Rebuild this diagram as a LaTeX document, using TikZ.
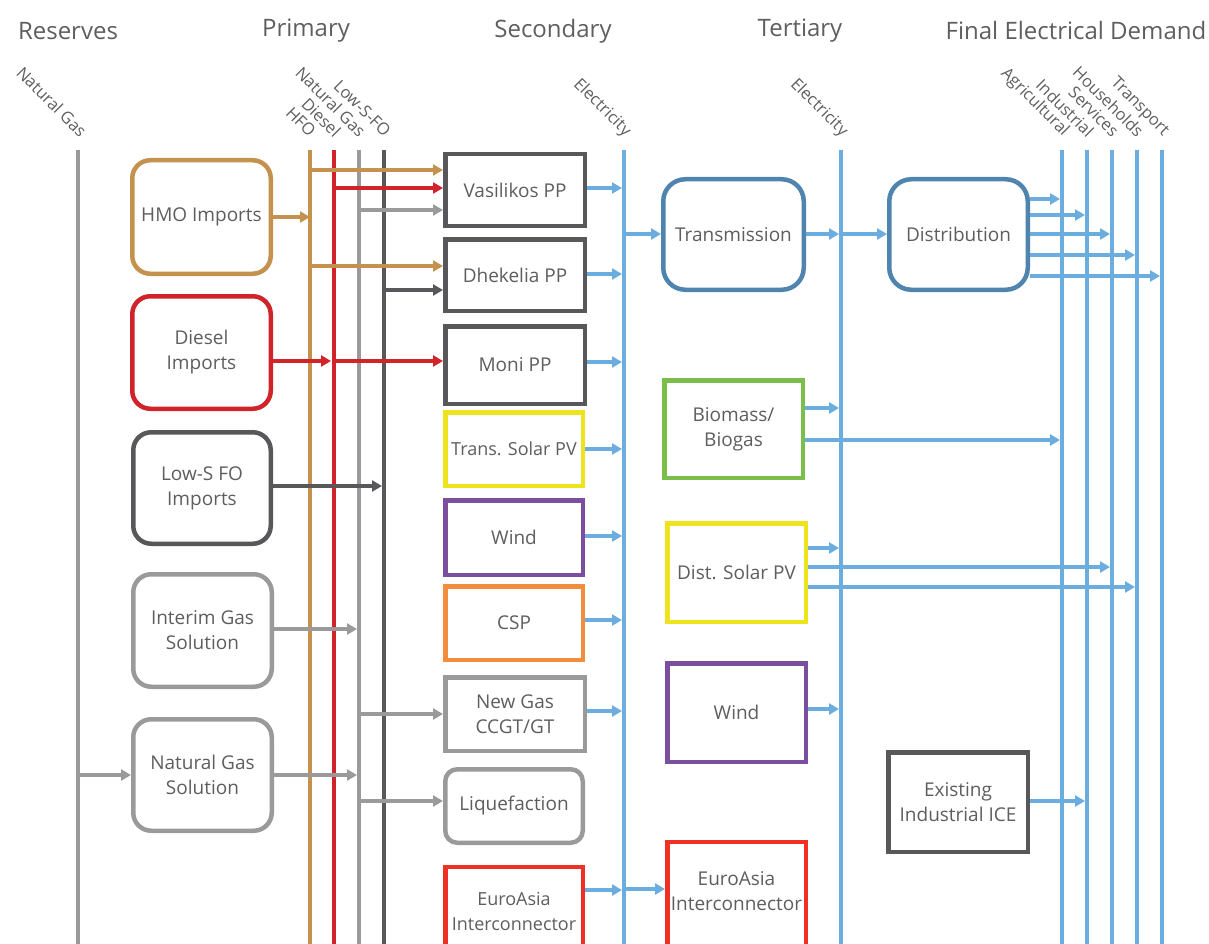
\documentclass[tikz,border=0pt]{standalone}
\usepackage{fontspec}
\setmainfont{Open Sans}
\usetikzlibrary{arrows.meta}
\definecolor{txt}{HTML}{5E5E5E}
\definecolor{ctan}{HTML}{C4914E}
\definecolor{cred}{HTML}{D1232A}
\definecolor{cgray}{HTML}{9A9A9A}
\definecolor{cdark}{HTML}{58585A}
\definecolor{cblue}{HTML}{6CADDF}
\definecolor{csteel}{HTML}{4F84AE}
\definecolor{cgreen}{HTML}{7BBF4A}
\definecolor{cyellow}{HTML}{EEE31D}
\definecolor{cpurple}{HTML}{7B4F9E}
\definecolor{corange}{HTML}{F28E3B}
\definecolor{ceuro}{HTML}{EE3124}
\tikzset{
  hdr/.style={text=txt, font=\fontsize{24}{28}\selectfont, inner sep=0},
  lbl/.style={text=txt, font=\fontsize{16.5}{18}\selectfont, rotate=-45, anchor=east, inner sep=0},
  vl/.style={line width=4pt},
  arr/.style={line width=3.5pt, -{Triangle[length=10pt,width=11pt]}},
  box/.style={line width=4.5pt, fill=white, text=txt, align=center,
    font=\fontsize{19}{25}\selectfont, inner sep=0},
  rbox/.style={box, rounded corners=18pt},
  btxt/.style={text=txt, align=center, font=\fontsize{19}{25}\selectfont, inner sep=0},
}
\begin{document}
\begin{tikzpicture}[x=1pt,y=-1pt]
\useasboundingbox (0,0) rectangle (1209,944);
% headers
\node[hdr] (hres) at (68,31) {Reserves};
\node[hdr] (hpri) at (306,31) {Primary};
\node[hdr] (hsec) at (553,31) {Secondary};
\node[hdr] (hter) at (800,31) {Tertiary};
\node[hdr] (hfin) at (1076,31) {Final Electrical Demand};
% line tops
\coordinate (ngr) at (78,150);
\coordinate (hfo) at (310,150);
\coordinate (dsl) at (334,150);
\coordinate (ngl) at (359,150);
\coordinate (lsf) at (384,150);
\coordinate (el1) at (624,150);
\coordinate (el2) at (841,150);
\coordinate (agr) at (1062,150);
\coordinate (ind) at (1087,150);
\coordinate (ser) at (1112,150);
\coordinate (hou) at (1137,150);
\coordinate (tra) at (1162,150);
% vertical lines
\draw[vl,cgray] (ngr) -- (ngr |- 0,950);
\draw[vl,ctan] (hfo) -- (hfo |- 0,950);
\draw[vl,cred] (dsl) -- (dsl |- 0,950);
\draw[vl,cgray] (ngl) -- (ngl |- 0,950);
\draw[vl,cdark] (lsf) -- (lsf |- 0,950);
\draw[vl,cblue] (el1) -- (el1 |- 0,950);
\draw[vl,cblue] (el2) -- (el2 |- 0,950);
\draw[vl,cblue] (agr) -- (agr |- 0,950);
\draw[vl,cblue] (ind) -- (ind |- 0,950);
\draw[vl,cblue] (ser) -- (ser |- 0,950);
\draw[vl,cblue] (hou) -- (hou |- 0,950);
\draw[vl,cblue] (tra) -- (tra |- 0,950);
% rotated labels
\node[lbl] (l1) at (84,134) {Natural Gas};
\node[lbl] (l2) at (313,134) {HFO};
\node[lbl] (l3) at (338,134) {Diesel};
\node[lbl] (l4) at (363,134) {Natural Gas};
\node[lbl] (l5) at (388,134) {Low-S-FO};
\node[lbl] (l6) at (628,134) {Electricity};
\node[lbl] (l7) at (845,134) {Electricity};
\node[lbl] (l8) at (1066,134) {Agricultural};
\node[lbl] (l9) at (1091,134) {Industrial};
\node[lbl] (l10) at (1116,134) {Services};
\node[lbl] (l11) at (1141,134) {Households};
\node[lbl] (l12) at (1166,134) {Transport};
% primary boxes
\node[rbox,draw=ctan,minimum width=138.5pt,minimum height=113.5pt] (hmo) at (201.5,217) {HMO Imports};
\node[rbox,draw=cred,minimum width=138.5pt,minimum height=112.5pt] (dimp) at (201.5,352.5) {Diesel\\Imports};
\node[rbox,draw=cdark,minimum width=137.5pt,minimum height=111.5pt] (limp) at (202,488) {Low-S FO\\Imports};
\node[rbox,draw=cgray,minimum width=138.5pt,minimum height=112.5pt] (igs) at (202.5,630.5) {Interim Gas\\Solution};
\node[rbox,draw=cgray,minimum width=138.5pt,minimum height=111.5pt] (ngs) at (202.5,775) {Natural Gas\\Solution};
% secondary boxes
\node[box,draw=cdark,minimum width=139.5pt,minimum height=71.5pt] (vas) at (515,190) {Vasilikos PP};
\node[box,draw=cdark,minimum width=139.5pt,minimum height=71.5pt] (dhe) at (515,275) {Dhekelia PP};
\node[box,draw=cdark,minimum width=139.5pt,minimum height=77.5pt] (moni) at (515,365) {Moni PP};
\node[box,draw=cyellow,minimum width=137.5pt,minimum height=73.5pt,font=\fontsize{18}{25}\selectfont] (tsol) at (514,449) {Trans. Solar PV};
\node[box,draw=cpurple,minimum width=137.5pt,minimum height=74.5pt] (wind2) at (514,537.5) {Wind};
\node[box,draw=corange,minimum width=137.5pt,minimum height=73.5pt] (csp) at (514,623) {CSP};
\node[box,draw=cgray,minimum width=139.5pt,minimum height=73.5pt] (ngas) at (515,714) {New Gas\\CCGT/GT};
\node[box,draw=cgray,rounded corners=12pt,minimum width=137.5pt,minimum height=73.5pt] (liq) at (514,806) {Liquefaction};
\node[box,draw=ceuro,minimum width=137.5pt,minimum height=88pt,font=\fontsize{18}{25}\selectfont] (eu2) at (514,911) {EuroAsia\\Interconnector};
% tertiary boxes
\node[box,draw=csteel,rounded corners=22pt,minimum width=140.5pt,minimum height=110.5pt] (trans) at (733.5,234.5) {Transmission};
\node[box,draw=cgreen,minimum width=138.5pt,minimum height=97.5pt] (bio) at (733.5,429) {Biomass/\\Biogas};
\node[box,draw=cyellow,minimum width=138.5pt,minimum height=98.5pt] (dsol) at (736.5,572.5) {Dist. Solar PV};
\node[box,draw=cpurple,minimum width=138.5pt,minimum height=98.5pt] (wind3) at (736.5,712.5) {Wind};
\node[box,draw=ceuro,minimum width=138.5pt,minimum height=120pt] (eu3) at (736.5,902) {};
\node[btxt] (eu3t) at (736.5,891) {EuroAsia\\Interconnector};
% distribution etc
\node[box,draw=csteel,rounded corners=22pt,minimum width=138.5pt,minimum height=110.5pt] (dist) at (958.5,234.5) {Distribution};
\node[box,draw=cdark,minimum width=139.5pt,minimum height=99.5pt] (ice) at (958,802) {Existing\\Industrial ICE};
% primary arrows
\draw[arr,ctan] (hmo.east |- 0,217) -- (hfo |- 0,217);
\draw[arr,ctan] (hfo |- 0,170) -- (vas.west |- 0,170);
\draw[arr,ctan] (hfo |- 0,266) -- (dhe.west |- 0,266);
\draw[arr,cred] (dsl |- 0,188) -- (vas.west |- 0,188);
\draw[arr,cred] (dimp.east |- 0,361) -- ([xshift=-3pt]dsl |- 0,361);
\draw[arr,cred] (dsl |- 0,361) -- (moni.west |- 0,361);
\draw[arr,cgray] (ngl |- 0,210) -- (vas.west |- 0,210);
\draw[arr,cdark] (lsf |- 0,290) -- (dhe.west |- 0,290);
\draw[arr,cdark] (limp.east |- 0,486) -- ([xshift=-2pt]lsf |- 0,486);
\draw[arr,cgray] (igs.east |- 0,629) -- ([xshift=-2pt]ngl |- 0,629);
\draw[arr,cgray] (ngl |- 0,714) -- (ngas.west |- 0,714);
\draw[arr,cgray] (ngr |- 0,775) -- (ngs.west |- 0,775);
\draw[arr,cgray] (ngs.east |- 0,775) -- ([xshift=-2pt]ngl |- 0,775);
\draw[arr,cgray] (ngl |- 0,801) -- (liq.west |- 0,801);
% secondary -> electricity
\draw[arr,cblue] (vas.east |- 0,188) -- ([xshift=-2pt]el1 |- 0,188);
\draw[arr,cblue] (dhe.east |- 0,274) -- ([xshift=-2pt]el1 |- 0,274);
\draw[arr,cblue] (moni.east |- 0,362) -- ([xshift=-2pt]el1 |- 0,362);
\draw[arr,cblue] (tsol.east |- 0,449) -- ([xshift=-2pt]el1 |- 0,449);
\draw[arr,cblue] (wind2.east |- 0,536) -- ([xshift=-2pt]el1 |- 0,536);
\draw[arr,cblue] (csp.east |- 0,620) -- ([xshift=-2pt]el1 |- 0,620);
\draw[arr,cblue] (ngas.east |- 0,711) -- ([xshift=-2pt]el1 |- 0,711);
\draw[arr,cblue] (eu2.east |- 0,890) -- ([xshift=-2pt]el1 |- 0,890);
\draw[arr,cblue] (el1 |- 0,889) -- (eu3.west |- 0,889);
\draw[arr,cblue] (el1 |- 0,234) -- (trans.west |- 0,234);
\draw[arr,cblue] (trans.east |- 0,234) -- ([xshift=-2pt]el2 |- 0,234);
\draw[arr,cblue] (el2 |- 0,234) -- (dist.west |- 0,234);
% tertiary ->
\draw[arr,cblue] (bio.east |- 0,408) -- ([xshift=-2pt]el2 |- 0,408);
\draw[arr,cblue] (bio.east |- 0,440) -- ([xshift=-2pt]agr |- 0,440);
\draw[arr,cblue] (dsol.east |- 0,548) -- ([xshift=-2pt]el2 |- 0,548);
\draw[arr,cblue] (dsol.east |- 0,567) -- ([xshift=-2pt]ser |- 0,567);
\draw[arr,cblue] (dsol.east |- 0,587) -- ([xshift=-2pt]hou |- 0,587);
\draw[arr,cblue] (wind3.east |- 0,709) -- ([xshift=-2pt]el2 |- 0,709);
% distribution -> demand
\draw[arr,cblue] (dist.east |- 0,199) -- ([xshift=-2pt]agr |- 0,199);
\draw[arr,cblue] (dist.east |- 0,215) -- ([xshift=-2pt]ind |- 0,215);
\draw[arr,cblue] (dist.east |- 0,234) -- ([xshift=-2pt]ser |- 0,234);
\draw[arr,cblue] (dist.east |- 0,255) -- ([xshift=-2pt]hou |- 0,255);
\draw[arr,cblue] (dist.east |- 0,276) -- ([xshift=-2pt]tra |- 0,276);
\draw[arr,cblue] (ice.east |- 0,801) -- ([xshift=-2pt]ind |- 0,801);
\end{tikzpicture}
\end{document}
